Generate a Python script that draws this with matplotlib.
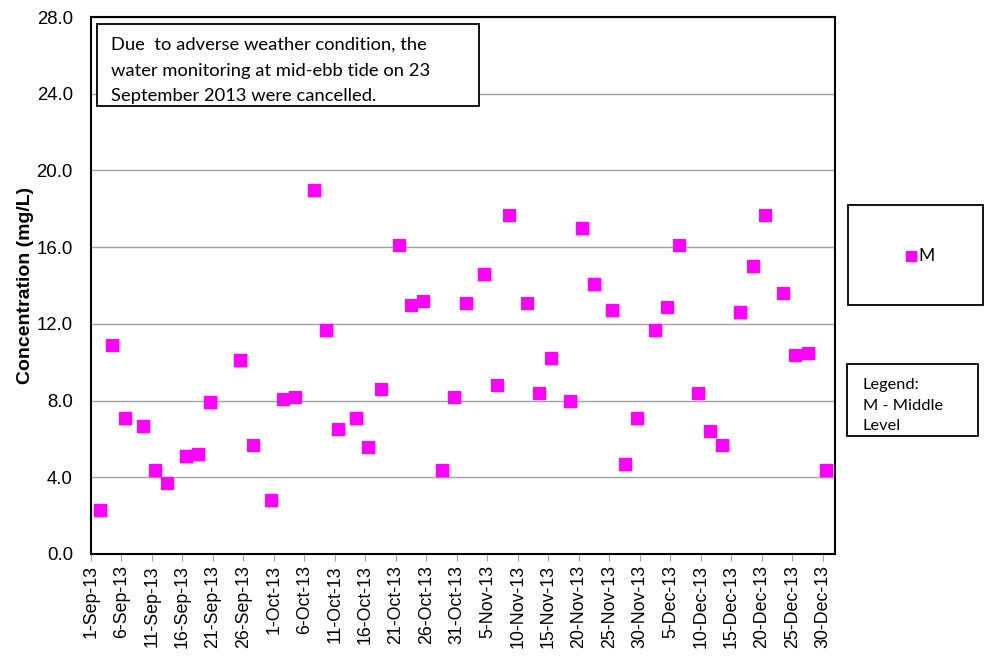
import matplotlib.pyplot as plt
import pandas as pd
from matplotlib.patches import Rectangle
from matplotlib.lines import Line2D

# mid-ebb tide, middle level
sample_dates = [
    "2013-09-02", "2013-09-04", "2013-09-06", "2013-09-09", "2013-09-11",
    "2013-09-13", "2013-09-16", "2013-09-18", "2013-09-20", "2013-09-25",
    "2013-09-27", "2013-09-30", "2013-10-02", "2013-10-04", "2013-10-07",
    "2013-10-09", "2013-10-11", "2013-10-14", "2013-10-16", "2013-10-18",
    "2013-10-21", "2013-10-23", "2013-10-25", "2013-10-28", "2013-10-30",
    "2013-11-01", "2013-11-04", "2013-11-06", "2013-11-08", "2013-11-11",
    "2013-11-13", "2013-11-15", "2013-11-18", "2013-11-20", "2013-11-22",
    "2013-11-25", "2013-11-27", "2013-11-29", "2013-12-02", "2013-12-04",
    "2013-12-06", "2013-12-09", "2013-12-11", "2013-12-13", "2013-12-16",
    "2013-12-18", "2013-12-20", "2013-12-23", "2013-12-25", "2013-12-27",
    "2013-12-30",
]
sample_time = "12:00"
middle_level = [
    2.3, 10.9, 7.1, 6.7, 4.4, 3.7, 5.1, 5.2, 7.9, 10.1,
    5.7, 2.8, 8.1, 8.2, 19.0, 11.7, 6.5, 7.1, 5.6, 8.6,
    16.1, 13.0, 13.2, 4.4, 8.2, 13.1, 14.6, 8.8, 17.7, 13.1,
    8.4, 10.2, 8.0, 17.0, 14.1, 12.7, 4.7, 7.1, 11.7, 12.9,
    16.1, 8.4, 6.4, 5.7, 12.6, 15.0, 17.7, 13.6, 10.4, 10.5,
    4.4,
]
y_ticks = [0, 4, 8, 12, 16, 20, 24, 28]
note = ("Due  to adverse weather condition, the\n"
        "water monitoring at mid-ebb tide on 23\n"
        "September 2013 were cancelled.")

W, H = 984, 665
MAGENTA = "#ff00ff"

fig = plt.figure(figsize=(W / 100, H / 100), dpi=100)
fig.patch.set_facecolor("white")


def fx(px):
    return px / W


def fy(py):
    return 1 - py / H


ax = fig.add_axes([fx(91), fy(554), fx(835 - 91), (554 - 17) / H])

times = pd.to_datetime([d + " " + sample_time for d in sample_dates])
ax.plot(times, middle_level, linestyle="none", marker="s", markersize=9,
        markerfacecolor=MAGENTA, markeredgecolor=MAGENTA, zorder=3)

ax.set_xlim(pd.Timestamp("2013-09-01"), pd.Timestamp("2014-01-01"))
ax.set_ylim(0, 28)

xt = pd.date_range("2013-09-01", "2013-12-30", freq="5D")
ax.set_xticks(xt)
ax.set_xticklabels([f"{t.day}-{t.strftime('%b-%y')}" for t in xt],
                   rotation=90, fontsize=12.8, family="Liberation Sans")
ax.set_yticks(y_ticks)
ax.set_yticklabels([f"{v:.1f}" for v in y_ticks], fontsize=13.4,
                   family="Liberation Sans")
ax.tick_params(axis="x", length=5, color="#a0a0a0", pad=3)
ax.tick_params(axis="y", length=0, pad=13)

ax.yaxis.grid(True, color="#a0a0a0", linewidth=1)
ax.set_axisbelow(True)
for s in ax.spines.values():
    s.set_color("black")
    s.set_linewidth(1.5)

ax.set_ylabel("Concentration (mg/L)", fontsize=14, fontweight="bold",
              family="Liberation Sans", labelpad=2)

# note box at the top left of the plot
fig.add_artist(Rectangle((fx(97), fy(106)), fx(479 - 97), (106 - 24) / H,
                         transform=fig.transFigure, facecolor="white",
                         edgecolor="black", linewidth=1.3, zorder=5))
fig.text(fx(111), fy(37), note, ha="left", va="top", fontsize=13.2,
         family="Lato", linespacing=1.74, zorder=6)

# series key
fig.add_artist(Rectangle((fx(848), fy(305)), fx(983 - 848), (305 - 205) / H,
                         transform=fig.transFigure, facecolor="white",
                         edgecolor="black", linewidth=1.3, clip_on=False))
fig.add_artist(Line2D([fx(910.5)], [fy(256)], transform=fig.transFigure,
                      marker="s", markersize=7.5, linestyle="none",
                      markerfacecolor=MAGENTA, markeredgecolor=MAGENTA))
fig.text(fx(918), fy(256), "M", ha="left", va="center", fontsize=12.5,
         family="Lato")

# level abbreviation box
fig.add_artist(Rectangle((fx(847), fy(436)), fx(978 - 847), (436 - 364) / H,
                         transform=fig.transFigure, facecolor="white",
                         edgecolor="black", linewidth=1.3))
fig.text(fx(863), fy(378), "Legend:\nM - Middle\nLevel", ha="left", va="top",
         fontsize=11.8, family="Lato", linespacing=1.6)

fig.savefig("out.png", dpi=100)
